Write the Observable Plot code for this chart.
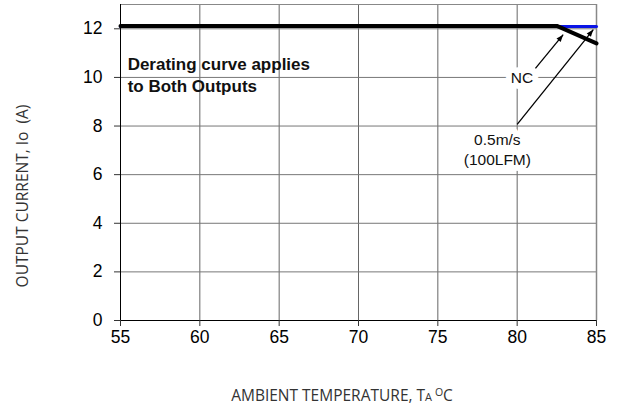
<!DOCTYPE html>
<html>
<head>
<meta charset="utf-8">
<script src="https://cdn.jsdelivr.net/npm/d3@7"></script>
<script src="https://cdn.jsdelivr.net/npm/@observablehq/plot@0.6"></script>
<style>
  html, body { margin: 0; padding: 0; background: white; }
</style>
</head>
<body>
<div id="chart"></div>
<script>
// ---- data ----
const xTicks = [55, 60, 65, 70, 75, 80, 85];
const yTicks = [0, 2, 4, 6, 8, 10, 12];

// natural convection (NC) derating curve (black)
const ncTemp = [55, 82.5, 85];
const ncCurrent = [12.12, 12.12, 11.4];

// 0.5 m/s (100 LFM) derating curve (blue)
const airTemp = [55, 85];
const airCurrent = [12.1, 12.1];

// annotation arrows
const arrowTailTemp = [81.15, 80.0];
const arrowTailCurrent = [10.37, 8.07];
const arrowHeadTemp = [82.9, 84.8];
const arrowHeadCurrent = [11.76, 11.97];

// annotation labels
const labelText = ["NC", "0.5m/s\n(100LFM)"];
const labelTemp = [80.3, 78.75];
const labelCurrent = [10.04, 7.07];

const noteText = ["Derating curve applies\nto Both Outputs"];
const noteTemp = [55.45];
const noteCurrent = [10.95];

// ---- tables ----
const ncData = ncTemp.map((t, i) => ({t, a: ncCurrent[i]}));
const airData = airTemp.map((t, i) => ({t, a: airCurrent[i]}));
const arrows = arrowTailTemp.map((t, i) => ({
  x1: t, y1: arrowTailCurrent[i], x2: arrowHeadTemp[i], y2: arrowHeadCurrent[i]
}));
const labels = labelText.map((s, i) => ({s, t: labelTemp[i], a: labelCurrent[i]}));
const notes = noteText.map((s, i) => ({s, t: noteTemp[i], a: noteCurrent[i]}));

function filledArrow(color, context) {
  const doc = context.document;
  const ns = "http://www.w3.org/2000/svg";
  const m = doc.createElementNS(ns, "marker");
  m.setAttribute("viewBox", "-5 -5 10 10");
  m.setAttribute("markerUnits", "userSpaceOnUse");
  m.setAttribute("markerWidth", "9");
  m.setAttribute("markerHeight", "9");
  m.setAttribute("orient", "auto");
  m.setAttribute("refX", "4");
  m.setAttribute("refY", "0");
  const p = doc.createElementNS(ns, "path");
  p.setAttribute("d", "M-4,-3L4,0L-4,3Z");
  p.setAttribute("fill", color);
  p.setAttribute("stroke", "none");
  m.appendChild(p);
  return m;
}

const font = "'Liberation Sans', Arial, Helvetica, sans-serif";

const plot = Plot.plot({
  width: 619,
  height: 409,
  marginLeft: 120,
  marginRight: 23,
  marginTop: 4,
  marginBottom: 89,
  style: {fontFamily: font, background: "white", color: "black"},
  x: {domain: [55, 85]},
  y: {domain: [0, 13]},
  marks: [
    Plot.gridX(xTicks.slice(1, -1), {stroke: "#666", strokeOpacity: 1, strokeWidth: 1}),
    Plot.gridY(yTicks.slice(1), {stroke: "#777", strokeOpacity: 1, strokeWidth: 1}),
    Plot.ruleY([13], {stroke: "#888", strokeWidth: 1}),
    Plot.ruleX([85], {stroke: "#888", strokeWidth: 1.5}),
    Plot.ruleX([55], {stroke: "black", strokeWidth: 1}),
    Plot.ruleY([0], {stroke: "black", strokeWidth: 1}),
    Plot.axisX({ticks: xTicks, tickSize: 6, tickPadding: 4, fontSize: 17.5, label: null, stroke: "#333"}),
    Plot.axisY({ticks: yTicks, tickSize: 6, tickPadding: 12, fontSize: 17.5, label: null, stroke: "#333"}),
    Plot.line(airData, {x: "t", y: "a", stroke: "#0a14e6", strokeWidth: 3}),
    Plot.line(ncData, {x: "t", y: "a", stroke: "black", strokeWidth: 4, strokeLinejoin: "miter"}),
    Plot.text(labels, {x: "t", y: "a", text: "s", fontSize: 15.5, lineHeight: 1.25,
      fill: "#111", stroke: "white", strokeWidth: 12, fontFamily: font}),
    Plot.link(arrows, {x1: "x1", y1: "y1", x2: "x2", y2: "y2", stroke: "black",
      strokeWidth: 1.3, markerEnd: filledArrow}),
    Plot.text(notes, {x: "t", y: "a", text: "s", textAnchor: "start", lineAnchor: "top",
      fontSize: 17, fontWeight: "bold", lineHeight: 1.3, fill: "#111", fontFamily: font})
  ]
});

const svg = d3.select(plot);
const labelFont = "'Open Sans', 'Noto Sans', sans-serif";
// y axis title
svg.append("text")
  .attr("transform", "translate(28,196) rotate(-90)")
  .attr("text-anchor", "middle")
  .attr("font-family", labelFont)
  .attr("font-size", 15.5)
  .attr("fill", "#333")
  .style("white-space", "pre")
  .text("OUTPUT CURRENT, Io  (A)");
// x axis title
const xt = svg.append("text")
  .attr("x", 342).attr("y", 401)
  .attr("text-anchor", "middle")
  .attr("font-family", labelFont)
  .attr("font-size", 15.5)
  .attr("fill", "#333");
xt.append("tspan").text("AMBIENT TEMPERATURE, T");
xt.append("tspan").attr("font-size", 11).text("A ");
xt.append("tspan").attr("font-size", 10.5).attr("dy", -5).text("O");
xt.append("tspan").attr("dy", 5).text("C");

document.getElementById("chart").appendChild(plot);
</script>
</body>
</html>
